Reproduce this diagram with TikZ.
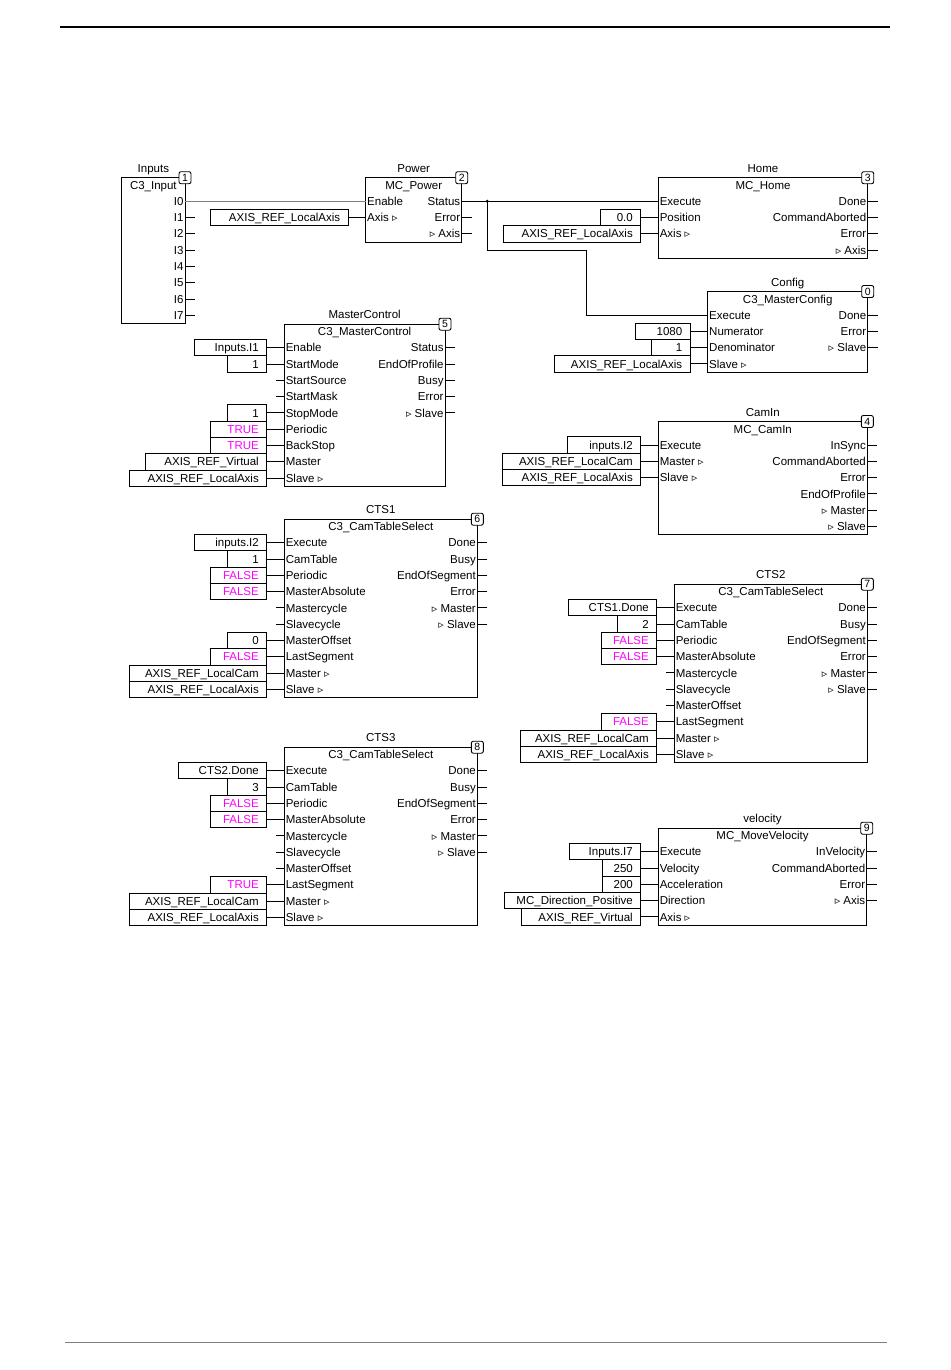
\documentclass[tikz,border=0pt]{standalone}
\usepackage{fontspec}
\setmainfont{Liberation Sans}
\newfontfamily\markfont{DejaVu Sans}
\usetikzlibrary{calc}
\usetikzlibrary{positioning}
\definecolor{boolc}{RGB}{255,0,255}
\newcommand{\trimark}{{\markfont\fontsize{11}{11}\selectfont ▹}}
\newcommand{\tv}[1]{\textcolor{boolc}{#1}}
\tikzset{
  fbox/.style={draw, inner sep=0pt, outer sep=0pt},
  fbtitle/.style={inner sep=0pt, text height=8.2pt, text depth=0pt},
  pinin/.style={anchor=west, inner xsep=1.5pt, inner ysep=0pt, outer sep=0pt, text height=8.2pt, text depth=0pt},
  pinout/.style={anchor=east, inner xsep=1.5pt, inner ysep=0pt, outer sep=0pt, text height=8.2pt, text depth=0pt},
  cstbox/.style={draw, anchor=east, minimum height=16.3pt, inner xsep=7pt, inner ysep=0pt, outer sep=0pt, text height=8.2pt, text depth=0pt, align=right},
  tagnum/.style={draw, fill=white, rounded corners=2pt, minimum width=12pt, minimum height=12pt, inner sep=0pt, font=\fontsize{10.5}{10.5}\selectfont},
  wiregray/.style={draw=gray}
}
% bloc : nom, x gauche, x droit, y 1ere broche, lignes, titre, type, numero
\newcommand{\fblock}[8]{%
  \pgfmathsetmacro\fbh{31.8+(#5-1)*16.3}%
  \node[fbox, minimum width=#3-#2, minimum height=\fbh, anchor=north west] (#1) at (#2,#4-23.5) {};%
  \node[fbtitle] (#1-title) at ($(#1.north)+(0,-9.5)$) {#6};%
  \node[fbtitle] (#1-type) at ($(#1.north)+(0,7.5)$) {#7};%
  \node[tagnum] (#1-num) at (#1.north east) {#8};%
}
% broches d'entree
\newcommand{\inpins}[2]{%
  \foreach \p [count=\i] in {#2} {%
    \node[pinin] (#1-i\i) at ($(#1.north west)+(0,7.2+16.3*\i)$) {\p};%
    \draw (#1-i\i.west) -- ++(-8,0);%
  }}
% broches de sortie
\newcommand{\outpins}[2]{%
  \foreach \p [count=\i] in {#2} {%
    \node[pinout] (#1-o\i) at ($(#1.north east)+(0,7.2+16.3*\i)$) {\p};%
    \draw (#1-o\i.east) -- ++(10,0);%
  }}
% constante : broche, largeur, texte
\newcommand{\cst}[3]{%
  \pgfmathsetmacro\cw{#2-16}%
  \node[cstbox, inner xsep=8pt, text width=\cw pt] (k-#1) at ($(#1.west)+(-17.5,0)$) {#3};%
  \draw (k-#1.east) -- (#1.west);}

\begin{document}
\begin{tikzpicture}[x=1pt,y=-1pt,font=\fontsize{11.5}{12}\selectfont,line width=0.9pt]
\useasboundingbox (0,0) rectangle (950,1370);
% filets
\draw[line width=1.5pt] (60,27) -- (890,27);
\draw[gray, line width=1pt] (65,1342) -- (887,1342);
% blocs
\fblock{inputs}{121.7}{185}{201.2}{8}{Inputs}{C3\_Input}{1}
\outpins{inputs}{I0,I1,I2,I3,I4,I5,I6,I7}
\fblock{power}{365.7}{461.7}{201.2}{3}{Power}{MC\_Power}{2}
\inpins{power}{Enable,Axis \trimark}
\outpins{power}{Status,Error,\trimark\ Axis}
\fblock{home}{658.3}{867.7}{201.2}{4}{Home}{MC\_Home}{3}
\inpins{home}{Execute,Position,Axis \trimark}
\outpins{home}{Done,CommandAborted,Error,\trimark\ Axis}
\fblock{config}{707.7}{867.7}{315}{4}{Config}{C3\_MasterConfig}{0}
\inpins{config}{Execute,Numerator,Denominator,Slave \trimark}
\outpins{config}{Done,Error,\trimark\ Slave}
\fblock{mcontrol}{284.3}{445}{347.7}{9}{MasterControl}{C3\_MasterControl}{5}
\inpins{mcontrol}{Enable,StartMode,StartSource,StartMask,StopMode,Periodic,BackStop,Master,Slave \trimark}
\outpins{mcontrol}{Status,EndOfProfile,Busy,Error,\trimark\ Slave}
\fblock{camin}{658.3}{867.3}{445}{6}{CamIn}{MC\_CamIn}{4}
\inpins{camin}{Execute,Master \trimark,Slave \trimark}
\outpins{camin}{InSync,CommandAborted,Error,EndOfProfile,\trimark\ Master,\trimark\ Slave}
\fblock{cts1}{284.3}{477.3}{542.7}{10}{CTS1}{C3\_CamTableSelect}{6}
\fblock{cts2}{674.3}{867.3}{607.7}{10}{CTS2}{C3\_CamTableSelect}{7}
\fblock{cts3}{284.3}{477.3}{770.7}{10}{CTS3}{C3\_CamTableSelect}{8}
\foreach \b in {cts1,cts2,cts3} {
  \inpins{\b}{Execute,CamTable,Periodic,MasterAbsolute,Mastercycle,Slavecycle,MasterOffset,LastSegment,Master \trimark,Slave \trimark}
  \outpins{\b}{Done,Busy,EndOfSegment,Error,\trimark\ Master,\trimark\ Slave}
}
\fblock{velocity}{658.3}{866.7}{851.7}{5}{velocity}{MC\_MoveVelocity}{9}
\inpins{velocity}{Execute,Velocity,Acceleration,Direction,Axis \trimark}
\outpins{velocity}{InVelocity,CommandAborted,Error,\trimark\ Axis}
% liaisons
\draw[wiregray] (inputs-o1.east) -- (power-i1.west);
\draw (power-o1.east) -- (home-i1.west);
\coordinate (jct) at ($(power-o1.east)+(25.5,0)$);
\fill (jct) circle (1.6);
\coordinate (bend) at ($(jct)+(98.8,49)$);
\draw (jct) |- (bend) |- (config-i1.west);
% constantes
\foreach \pn/\w/\t in {power-i2/138/AXIS\_REF\_LocalAxis,
    home-i2/40/0.0, home-i3/137/AXIS\_REF\_LocalAxis,
    config-i2/55/1080, config-i3/39/1, config-i4/136/AXIS\_REF\_LocalAxis,
    mcontrol-i1/72/Inputs.I1, mcontrol-i2/39/1, mcontrol-i5/39/1,
    mcontrol-i6/56/\tv{TRUE}, mcontrol-i7/56/\tv{TRUE},
    mcontrol-i8/121/AXIS\_REF\_Virtual, mcontrol-i9/137/AXIS\_REF\_LocalAxis,
    camin-i1/73/inputs.I2, camin-i2/138/AXIS\_REF\_LocalCam, camin-i3/138/AXIS\_REF\_LocalAxis}
  {\cst{\pn}{\w}{\t}}
\foreach \pn/\w/\t in {cts1-i1/72/inputs.I2, cts1-i2/39/1,
    cts1-i3/56/\tv{FALSE}, cts1-i4/56/\tv{FALSE}, cts1-i7/39/0, cts1-i8/56/\tv{FALSE},
    cts1-i9/137/AXIS\_REF\_LocalCam, cts1-i10/137/AXIS\_REF\_LocalAxis,
    cts2-i1/88/CTS1.Done, cts2-i2/39/2,
    cts2-i3/55/\tv{FALSE}, cts2-i4/55/\tv{FALSE}, cts2-i8/55/\tv{FALSE},
    cts2-i9/136/AXIS\_REF\_LocalCam, cts2-i10/136/AXIS\_REF\_LocalAxis,
    cts3-i1/88/CTS2.Done, cts3-i2/39/3,
    cts3-i3/56/\tv{FALSE}, cts3-i4/56/\tv{FALSE}, cts3-i8/56/\tv{TRUE},
    cts3-i9/137/AXIS\_REF\_LocalCam, cts3-i10/137/AXIS\_REF\_LocalAxis,
    velocity-i1/71/Inputs.I7, velocity-i2/38/250, velocity-i3/38/200,
    velocity-i4/136/MC\_Direction\_Positive, velocity-i5/119/AXIS\_REF\_Virtual}
  {\cst{\pn}{\w}{\t}}
\end{tikzpicture}
\end{document}
